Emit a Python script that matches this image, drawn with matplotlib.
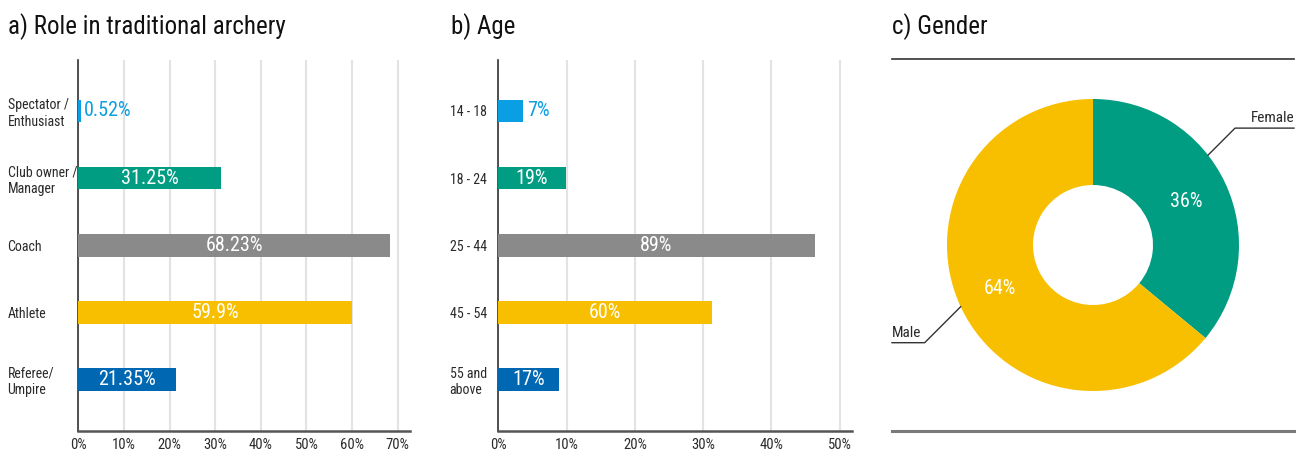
import numpy as np
import matplotlib.pyplot as plt

plt.rcParams['font.family'] = ['Roboto Condensed', 'DejaVu Sans']

# Rollen i traditionellt bågskytte (andel av svarande, %)
roller = ['Spectator /\nEnthusiast', 'Club owner /\nManager', 'Coach', 'Athlete', 'Referee/\nUmpire']
roll_andel = [0.52, 31.25, 68.23, 59.9, 21.35]

# Ålder (antal svarande per grupp)
aldrar = ['14 - 18', '18 - 24', '25 - 44', '45 - 54', '55 and\nabove']
alder_antal = [7, 19, 89, 60, 17]

# Kön (%)
kon = ['Female', 'Male']
kon_andel = [36, 64]

farger = ['#0a9fe2', '#009d82', '#8a8a8a', '#f8bf00', '#0067b3']
textfarg = '#2a2a2a'

W, H = 1303, 451
fig = plt.figure(figsize=(W / 100, H / 100), dpi=100)


def stapel(ax, namn, varden, etiketter, xmax, ticks, pad):
    y = np.arange(len(namn))
    ax.barh(y, varden, height=0.34, color=farger, zorder=3)
    ax.set_ylim(len(namn) - 0.23, -0.76)
    ax.set_xlim(0, xmax)
    ax.set_yticks(y)
    ax.set_yticklabels(namn, ha='left', fontsize=10, color=textfarg)
    ax.set_xticks(ticks)
    ax.set_xticklabels([f'{t}%' for t in ticks], fontsize=10.5, color=textfarg)
    ax.tick_params(axis='y', length=0, pad=pad)
    ax.tick_params(axis='x', length=0, pad=5)
    ax.grid(axis='x', color='#e3e3e3', linewidth=1.5, zorder=0)
    ax.spines['top'].set_visible(False)
    ax.spines['right'].set_visible(False)
    ax.spines['left'].set_color('#333333')
    ax.spines['left'].set_linewidth(1.2)
    ax.spines['bottom'].set_color('#555555')
    ax.spines['bottom'].set_linewidth(1.8)
    # Värdet i stapeln, eller bredvid om stapeln är för kort
    for i, (v, txt) in enumerate(zip(varden, etiketter)):
        if v < 5:
            ax.text(v + 0.6, i, txt, ha='left', va='center', fontsize=14.5,
                    color=farger[i], zorder=4)
        else:
            ax.text(v / 2, i, txt, ha='center', va='center', fontsize=14.5,
                    color='white', zorder=4)


# a) Roll
ax1 = fig.add_axes([78.4 / W, 20 / H, (410 - 78.4) / W, (H - 80) / H])
stapel(ax1, roller, roll_andel, [f'{v:g}%' for v in roll_andel], 72.7,
       list(range(0, 71, 10)), 51)

# b) Ålder - stapeln visar andel av alla svarande
totalt = sum(alder_antal)
alder_andel = [a / totalt * 100 for a in alder_antal]
ax2 = fig.add_axes([498.3 / W, 20 / H, (852 - 498.3) / W, (H - 80) / H])
stapel(ax2, aldrar, alder_andel, [f'{a}%' for a in alder_antal], 51.8,
       list(range(0, 51, 10)), 35)

# c) Kön - ring
ax3 = fig.add_axes([880 / W, 0, (W - 880) / W, 1])
mitt = (1093, H - 245)
r = 146
ax3.pie(kon_andel, colors=[farger[1], farger[3]], startangle=90, counterclock=False,
        center=mitt, radius=r, wedgeprops=dict(width=86, linewidth=0),
        autopct='%d%%', pctdistance=0.705,
        textprops=dict(color='white', fontsize=14.5))
ax3.set_xlim(880, W)
ax3.set_ylim(0, H)
ax3.axis('off')

# Linjer över och under ringen
ax3.plot([892, 1294], [H - 59, H - 59], color='#333333', linewidth=1.2)
ax3.plot([892, 1294], [H - 431, H - 431], color='#7a7a7a', linewidth=2.2)

# Etiketter med hänvisningslinjer
for namn, vinkel, dx, dy, slut in [('Female', 38, 27, 27, 1294), ('Male', 205, -36, -36, 892)]:
    kx = mitt[0] + r * np.cos(np.radians(vinkel))
    ky = mitt[1] + r * np.sin(np.radians(vinkel))
    ex, ey = kx + dx, ky + dy
    ax3.plot([kx, ex, slut], [ky, ey, ey], color='#333333', linewidth=1)
    ax3.text(slut, ey + 3, namn, ha='right' if dx > 0 else 'left', va='bottom',
             fontsize=11, color=textfarg)

# Rubriker
for x, rubrik in [(8, 'a) Role in traditional archery'), (451, 'b) Age'), (892, 'c) Gender')]:
    fig.text(x / W, 1 - 27 / H, rubrik, fontsize=18, va='center', color='#111111')

plt.savefig('out.png', dpi=100)
